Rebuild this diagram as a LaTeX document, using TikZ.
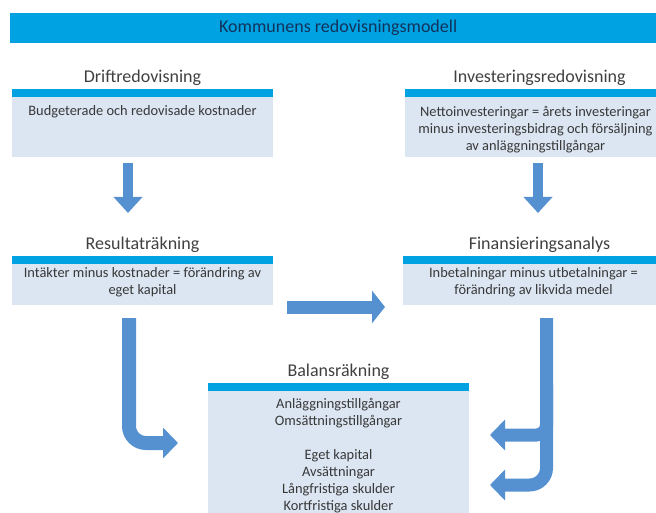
\documentclass[tikz,border=0pt]{standalone}
\usepackage{fontspec}
\setmainfont{Carlito}
\usetikzlibrary{positioning,arrows.meta}
\definecolor{barblue}{HTML}{00A2E2}
\definecolor{panelfill}{HTML}{DCE6F2}
\definecolor{flowblue}{HTML}{5590D0}
\definecolor{headgrey}{HTML}{404040}
\definecolor{bodygrey}{HTML}{383838}
\definecolor{bartext}{HTML}{12335C}

\begin{document}
\begin{tikzpicture}
[
    x=1pt, y=-1pt,
    panel/.style={fill=panelfill, inner sep=0pt, outer sep=0pt, anchor=north west, minimum width=261pt,
        path picture={\fill[barblue] (path picture bounding box.north west) rectangle ([yshift=-8pt]path picture bounding box.north east);}},
    head/.style={inner sep=0pt, text=headgrey, font=\fontsize{18}{20}\selectfont},
    body/.style={inner sep=0pt, text=bodygrey, align=center, font=\fontsize{14.4}{17}\selectfont},
    flow/.style={draw=flowblue, line width=12pt, -{Triangle[length=15pt, width=30pt]}},
]
\useasboundingbox (0,0) rectangle (656,513);
\clip (0,0) rectangle (656,513);

\node [fill=barblue, anchor=north west, minimum width=656pt, minimum height=30pt, inner sep=0pt,
    text=bartext, font=\fontsize{18}{20}\selectfont] (model) at (10,13) {Kommunens redovisningsmodell};

\node [panel, minimum height=68pt] (drift) at (12,89) {};
\node [panel, minimum height=68pt] (invest) at (405,89) {};
\node [panel, minimum height=49pt] (resultat) at (12,256) {};
\node [panel, minimum height=49pt] (finans) at (403,256) {};
\node [panel, minimum height=135pt] (balans) at (208,383) {};

\node [head, above=3pt of drift.north] (drifthead) {Driftredovisning};
\node [head, above=3pt of invest.north, xshift=4pt] (investhead) {Investeringsredovisning};
\node [head, above=3pt of resultat.north] (resulthead) {Resultaträkning};
\node [head, above=3pt of finans.north, xshift=6pt] (finanshead) {Finansieringsanalys};
\node [head, above=3pt of balans.north] (balanshead) {Balansräkning};

\node [body, below=16pt of drift.north] (drifttxt) {Budgeterade och redovisade kostnader};
\node [body, below=17pt of invest.north] (investtxt) {Nettoinvesteringar = årets investeringar\\
    minus investeringsbidrag och försäljning\\av anläggningstillgångar};
\node [body, below=11pt of resultat.north] (resulttxt) {Intäkter minus kostnader = förändring av\\eget kapital};
\node [body, below=11pt of finans.north] (finanstxt) {Inbetalningar minus utbetalningar =\\förändring av likvida medel};
\node [body, below=15pt of balans.north] (balanstxt) {Anläggningstillgångar\\Omsättningstillgångar\\[17pt]
    Eget kapital\\Avsättningar\\Långfristiga skulder\\Kortfristiga skulder};

\draw [flow, line width=10pt, -{Triangle[length=16pt, width=28pt]}]
    ([xshift=-14.5pt, yshift=-6pt]drift.south) -- ([xshift=-14.5pt, yshift=-56pt]drift.south);
\draw [flow, line width=10pt, -{Triangle[length=16pt, width=28pt]}]
    ([xshift=2.5pt, yshift=-6pt]invest.south) -- ([xshift=2.5pt, yshift=-56pt]invest.south);
\draw [flow, line width=13pt, -{Triangle[length=13pt, width=32pt]}]
    ([xshift=14pt, yshift=-2pt]resultat.south east) -- ([xshift=-18pt, yshift=-2pt]finans.south west);
\draw [flow, line width=14pt, rounded corners=17pt]
    ([xshift=-13.5pt, yshift=-13pt]resultat.south) |- ([xshift=-30pt, yshift=-60pt]balans.north west);
\draw [flow, line width=13pt, rounded corners=17pt]
    ([xshift=13pt, yshift=-13pt]finans.south) |- ([xshift=21pt, yshift=-102pt]balans.north east);
\draw [flow, line width=13pt, rounded corners=10pt]
    ([xshift=13pt, yshift=-80pt]finans.south) |- ([xshift=21pt, yshift=-52pt]balans.north east);
\end{tikzpicture}
\end{document}
